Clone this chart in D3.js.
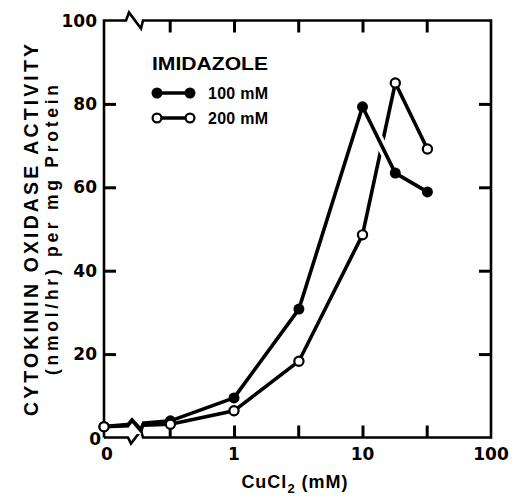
<!DOCTYPE html>
<html><head><meta charset="utf-8">
<script src="https://cdn.jsdelivr.net/npm/d3@7"></script>
<style>body{margin:0;background:#fff}svg{display:block}text{font-family:"Liberation Sans",Arial,sans-serif;font-weight:bold;fill:#000}</style>
</head><body><svg id="c" width="512" height="497"></svg>
<script>
const conc = [0, 0.32, 1, 3.2, 10, 18, 32];
const act100 = [2.6, 4.0, 9.5, 30.8, 79.3, 63.4, 58.9];
const act200 = [2.6, 3.2, 6.4, 18.3, 48.6, 85.0, 69.2];
const yTicks = [0, 20, 40, 60, 80, 100];
const xTickVals = [0.316, 1, 3.16, 10, 31.6];
const xLabels = [{v:0,t:"0"},{v:1,t:"1"},{v:10,t:"10"},{v:100,t:"100"}];
const seriesNames = ["100 mM", "200 mM"];

const svg = d3.select("#c");
const L = 104, R = 491, T = 20.5, B = 437.5;
const xLog = d3.scaleLog().domain([0.1, 100]).range([105.5, R]);
const x = v => v === 0 ? L : xLog(v);
const y = d3.scaleLinear().domain([0, 100]).range([B, T]);
const brk0 = 129, brk1 = 142;
const numFont = "'DejaVu Sans', sans-serif";

// frame with axis breaks
svg.append("path").attr("d",`M${L},${B}V${T}H${brk0-3}l3,-8l12,16l2,-8H${R}V${B}H${brk1+1}l-2,-7l-10,13l-3,-6H${L}`)
  .attr("fill","none").attr("stroke","#000").attr("stroke-width",2.6);

// inward ticks via d3 axes
function styleAxis(g){ g.select(".domain").remove(); g.selectAll(".tick line").attr("stroke","#000").attr("stroke-width",3); g.selectAll(".tick text").remove(); }
const inner = yTicks.filter(v=>v>0 && v<100);
svg.append("g").attr("transform",`translate(${L},0)`).call(d3.axisRight(y).tickValues(inner).tickSize(12)).call(styleAxis);
svg.append("g").attr("transform",`translate(${R},0)`).call(d3.axisLeft(y).tickValues(inner).tickSize(12)).call(styleAxis);
svg.append("g").attr("transform",`translate(0,${T})`).call(d3.axisBottom(xLog).tickValues(xTickVals).tickSize(12)).call(styleAxis);
svg.append("g").attr("transform",`translate(0,${B})`).call(d3.axisTop(xLog).tickValues(xTickVals).tickSize(12)).call(styleAxis);

// tick labels
yTicks.forEach(v=>{
  svg.append("text").attr("x", v===0 ? 101 : 97).attr("y", y(v)+6 + (v===0?1:0)).attr("text-anchor","end")
    .style("font-family",numFont).attr("font-size",17).text(v);
});
xLabels.forEach(d=>{
  svg.append("text").attr("x", x(d.v) + (d.v===0?3:0)).attr("y", 460).attr("text-anchor","middle")
    .style("font-family",numFont).attr("font-size",17).text(d.t);
});

// data lines
const pts100 = conc.map((c,i)=>[x(c), y(act100[i])]);
const pts200 = conc.map((c,i)=>[x(c), y(act200[i])]);
const line = d3.line();
svg.append("path").attr("d", line(pts200)).attr("fill","none").attr("stroke","#000").attr("stroke-width",3.6);
// white halo where the 100 mM line crosses the 200 mM line
svg.append("path").attr("d", line(pts100.slice(4,6))).attr("fill","none").attr("stroke","#fff").attr("stroke-width",10);
svg.append("path").attr("d", line(pts100)).attr("fill","none").attr("stroke","#000").attr("stroke-width",3.6).attr("stroke-linejoin","round");

// line break near the axis break
svg.append("rect").attr("x",brk0).attr("y",412).attr("width",brk1-brk0).attr("height",22).attr("fill","#fff");
function interpY(p, xx){const a=p[0],b=p[1];return a[1]+(b[1]-a[1])*(xx-a[0])/(b[0]-a[0]);}
[pts100, pts200].forEach(p=>{
  const y0 = interpY(p, brk0), y1 = interpY(p, brk1+1);
  svg.append("path").attr("d",`M${brk0-1},${y0}L${brk0+3},${y0-5}L${brk1-1},${y1+6}L${brk1+1},${y1}`)
    .attr("fill","none").attr("stroke","#000").attr("stroke-width",3);
});

// markers
svg.append("g").selectAll("circle").data(pts100).join("circle").attr("cx",d=>d[0]).attr("cy",d=>d[1]).attr("r",5.5).attr("fill","#000");
svg.append("g").selectAll("circle").data(pts200).join("circle").attr("cx",d=>d[0]).attr("cy",d=>d[1]).attr("r",4.6)
  .attr("fill","#fff").attr("stroke","#000").attr("stroke-width",2.2);

// legend
svg.append("text").attr("x",152).attr("y",70).attr("font-size",18).attr("textLength",116).attr("lengthAdjust","spacingAndGlyphs").text("IMIDAZOLE");
seriesNames.forEach((n,i)=>{
  const ly = 93 + i*25;
  svg.append("line").attr("x1",157).attr("x2",190).attr("y1",ly).attr("y2",ly).attr("stroke","#000").attr("stroke-width",3.6);
  [157,190].forEach(cx=>{
    if(i===0) svg.append("circle").attr("cx",cx).attr("cy",ly).attr("r",5.5).attr("fill","#000");
    else svg.append("circle").attr("cx",cx).attr("cy",ly).attr("r",4.4).attr("fill","#fff").attr("stroke","#000").attr("stroke-width",2.2);
  });
  svg.append("text").attr("x",208).attr("y",ly+6).attr("font-size",16).attr("textLength",60).text(n);
});

// axis titles
const xt = svg.append("text").attr("x",295).attr("y",488).attr("text-anchor","middle").attr("font-size",18).attr("letter-spacing",1);
xt.append("tspan").text("CuCl");
xt.append("tspan").attr("font-size",13).attr("dy",5).text("2");
xt.append("tspan").attr("dy",-5).text(" (mM)");
svg.append("text").attr("transform","translate(38,230) rotate(-90)").attr("text-anchor","middle").attr("font-size",19.5)
  .attr("textLength",372).attr("lengthAdjust","spacing").text("CYTOKININ OXIDASE ACTIVITY");
svg.append("text").attr("transform","translate(58,230) rotate(-90)").attr("text-anchor","middle").attr("font-size",17.5)
  .attr("textLength",290).attr("lengthAdjust","spacing").text("(nmol/hr) per mg Protein");
</script></body></html>
